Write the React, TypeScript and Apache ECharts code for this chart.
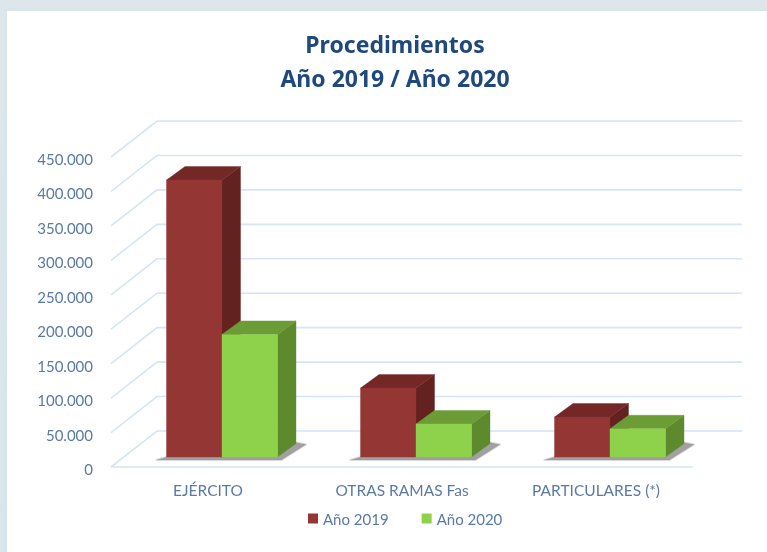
import React, { useEffect, useRef } from "react";
import * as echarts from "echarts";

const titleLines = ["Procedimientos", "Año 2019 / Año 2020"];
const categories = ["EJÉRCITO", "OTRAS RAMAS Fas", "PARTICULARES (*)"];
const values2019 = [402000, 100000, 58000];
const values2020 = [178000, 48000, 41000];
const gridTicks = [0, 50000, 100000, 150000, 200000, 250000, 300000, 350000, 400000, 450000];

const FONT = "Lato, 'Noto Sans', sans-serif";
const WALL = { dx: 46, dy: -36 };
const BAR_SHIFT = { dx: 14, dy: -10 };
const BAR = { w: 55.5, dx: 18.5, dy: -13.5 };

function barRenderer(side: number, front: string, top: string, right: string) {
  return (_p: any, api: any) => {
    const cat = api.value(0);
    const base = api.coord([cat, 0]);
    const head = api.coord([cat, api.value(1)]);
    const cx = base[0] + BAR_SHIFT.dx;
    const x0 = side < 0 ? cx - BAR.w : cx;
    const x1 = x0 + BAR.w;
    const yb = base[1] + BAR_SHIFT.dy;
    const yt = head[1] + BAR_SHIFT.dy;
    const poly = (points: number[][], fill: string) => ({
      type: "polygon",
      silent: true,
      shape: { points },
      style: { fill, stroke: fill, lineWidth: 0.4 },
    });
    return {
      type: "group",
      children: [
        poly([[x1, yb], [x1 + BAR.dx, yb + BAR.dy], [x1 + BAR.dx, yt + BAR.dy], [x1, yt]], right),
        poly([[x0, yt], [x1, yt], [x1 + BAR.dx, yt + BAR.dy], [x0 + BAR.dx, yt + BAR.dy]], top),
        poly([[x0, yb], [x1, yb], [x1, yt], [x0, yt]], front),
      ],
    };
  };
}

function gridRenderer(p: any, api: any) {
  const y = api.coord([0, api.value(1)])[1];
  const cs = p.coordSys;
  return {
    type: "polyline",
    silent: true,
    shape: {
      points: [
        [cs.x, y],
        [cs.x + WALL.dx, y + WALL.dy],
        [cs.x + cs.width + 49, y + WALL.dy],
      ],
    },
    style: { fill: "none", stroke: "#d5e4f7", lineWidth: 1.6 },
  };
}

function floorRenderer(p: any, api: any) {
  const y = api.coord([0, 0])[1];
  const cs = p.coordSys;
  return {
    type: "line",
    silent: true,
    shape: { x1: cs.x, y1: y, x2: cs.x + cs.width, y2: y },
    style: { stroke: "#d5e4f7", lineWidth: 1.6 },
  };
}

function shadowRenderer(_p: any, api: any) {
  const base = api.coord([api.value(0), 0]);
  const cx = base[0] + BAR_SHIFT.dx;
  const yb = base[1] + BAR_SHIFT.dy;
  const x0 = cx - BAR.w;
  const x1 = cx + BAR.w;
  return {
    type: "polygon",
    silent: true,
    shape: {
      points: [
        [x0 - 10, yb + 3],
        [x1 + 4, yb + 3],
        [x1 + BAR.dx + 10, yb + BAR.dy + 1],
        [x1 + BAR.dx, yb + BAR.dy - 1],
        [x1, yb],
        [x0, yb],
      ],
    },
    style: { fill: "rgba(110,110,110,0.65)", stroke: "rgba(150,150,150,0.35)", lineWidth: 2, lineJoin: "round" },
  };
}

export default function App() {
  const ref = useRef<HTMLDivElement>(null);
  useEffect(() => {
    document.body.style.margin = "0";
    const chart = echarts.init(ref.current!, null, { renderer: "svg" });
    chart.setOption({
      animation: false,
      backgroundColor: "transparent",
      graphic: [
        {
          type: "rect",
          z: -10,
          silent: true,
          shape: { x: 7, y: 11, width: 770, height: 560 },
          style: { fill: "#ffffff", shadowBlur: 3, shadowColor: "#cfe0f2" },
        },
        ...titleLines.map((text, i) => ({
          type: "text",
          x: 395,
          y: 44 + i * 34,
          silent: true,
          style: {
            text,
            fill: "#1f497d",
            font: "700 23px 'Noto Sans', sans-serif",
            align: "center",
            verticalAlign: "middle",
          },
        })),
      ],
      legend: {
        data: ["Año 2019", "Año 2020"],
        left: 303,
        top: 506,
        icon: "rect",
        itemWidth: 10,
        itemHeight: 10,
        itemGap: 33,
        textStyle: { color: "#5a7aa6", fontSize: 15, fontFamily: FONT },
      },
      grid: { left: 111, top: 157, width: 582, height: 310 },
      xAxis: {
        type: "category",
        data: categories,
        axisLine: { show: false },
        axisTick: { show: false },
        axisLabel: { color: "#5a7aa6", fontSize: 15.5, fontFamily: FONT, margin: 15, interval: 0 },
      },
      yAxis: {
        type: "value",
        min: 0,
        max: 450000,
        interval: 50000,
        axisLine: { show: false },
        axisTick: { show: false },
        splitLine: { show: false },
        axisLabel: {
          color: "#5a7aa6",
          fontSize: 15,
          fontFamily: FONT,
          margin: 18,
          verticalAlign: "top",
          lineHeight: 4,
          formatter: (v: number) => String(v).replace(/\B(?=(\d{3})+$)/g, "."),
        },
      },
      series: [
        {
          type: "custom",
          name: "grid",
          clip: false,
          renderItem: gridRenderer,
          encode: { x: 0, y: 1 },
          data: gridTicks.map((v) => [0, v]),
        },
        {
          type: "custom",
          name: "floor",
          clip: false,
          renderItem: floorRenderer,
          encode: { x: 0, y: 1 },
          data: [[0, gridTicks[0]]],
        },
        {
          type: "custom",
          name: "shadow",
          clip: false,
          renderItem: shadowRenderer,
          encode: { x: 0, y: 1 },
          data: categories.map((_, i) => [i, 0]),
        },
        {
          type: "custom",
          name: "Año 2019",
          clip: false,
          itemStyle: { color: "#943634" },
          renderItem: barRenderer(-1, "#943634", "#742826", "#632220"),
          encode: { x: 0, y: 1 },
          data: values2019.map((v, i) => [i, v]),
        },
        {
          type: "custom",
          name: "Año 2020",
          clip: false,
          itemStyle: { color: "#8ed14b" },
          renderItem: barRenderer(1, "#8ed14b", "#6c9c36", "#5c8a2d"),
          encode: { x: 0, y: 1 },
          data: values2020.map((v, i) => [i, v]),
        },
      ],
    });
    return () => chart.dispose();
  }, []);
  return (
    <div
      ref={ref}
      style={{
        position: "fixed",
        left: 0,
        top: 0,
        width: 767,
        height: 552,
        background: "linear-gradient(180deg,#dde6eb,#d7e5ed)",
        filter: "blur(0.6px)",
      }}
    />
  );
}
